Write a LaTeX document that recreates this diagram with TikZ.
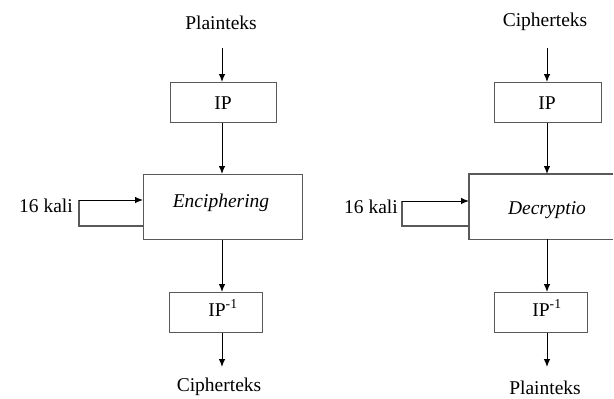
\documentclass[tikz,border=0pt]{standalone}
\usepackage{fontspec}
\setmainfont{Liberation Serif}
\usetikzlibrary{arrows.meta}
\begin{document}
\begin{tikzpicture}[x=1pt,y=-1pt,
  txt/.style={font=\fontsize{19.5}{21}\selectfont, inner sep=0pt},
  boxnode/.style={draw=black!65, line width=1.2pt, inner sep=0pt, anchor=north west},
  boxline/.style={draw=black!65, line width=1.2pt},
  arr/.style={draw=black, line width=1pt, -{Latex[length=8pt,width=6.5pt]}}]
\useasboundingbox (0,0) rectangle (614,399);
% ---------- left column ----------
\node[txt] (pl1) at (221,23) {Plainteks};
\coordinate (pl1a) at (222,48);
\node[boxnode, minimum width=106, minimum height=40] (ip1) at (170,82) {};
\node[txt] (ip1t) at (223,103) {IP};
\node[boxnode, minimum width=159, minimum height=65] (enc) at (143,174) {};
\node[txt] (enct) at (221,203) {\textit{Enciphering}};
\node[boxnode, minimum width=93, minimum height=40] (ipi1) at (169,292) {};
\node[txt] (ipi1t) at (223,308) {IP\textsuperscript{-1}};
\node[txt] (ci1) at (219,387) {Cipherteks};
\coordinate (ci1a) at (222,367);
\node[txt, anchor=east] (k1) at (73,206) {16 kali};
\draw[arr] (pl1a) -- (pl1a |- ip1.north);
\draw[arr] (pl1a |- ip1.south) -- (pl1a |- enc.north);
\draw[arr] (pl1a |- enc.south) -- (pl1a |- ipi1.north);
\draw[arr] (pl1a |- ipi1.south) -- (ci1a);
\draw[boxline] (enc.west |- 0,226) -- (79,226) -- (79,200);
\draw[arr] (79,200) -- (enc.west |- 0,200);
% ---------- right column ----------
\node[txt] (ci2) at (545,22) {Cipherteks};
\coordinate (ci2a) at (547,48);
\node[boxnode, minimum width=107, minimum height=40] (ip2) at (494,82) {};
\node[txt] (ip2t) at (547,103) {IP};
\node[draw=none, inner sep=0pt, anchor=north west, minimum width=144, minimum height=65] (dec) at (469,174) {};
\node[txt] (dect) at (547,210) {\textit{Decryptio}};
\draw[boxline] (dec.north east) -- (dec.north west) -- (dec.south west) -- (dec.south east);
\node[boxnode, minimum width=93, minimum height=40] (ipi2) at (494,292) {};
\node[txt] (ipi2t) at (547,308) {IP\textsuperscript{-1}};
\node[txt] (pl2) at (545,388) {Plainteks};
\coordinate (pl2a) at (547,367);
\node[txt, anchor=east] (k2) at (398,207) {16 kali};
\draw[arr] (ci2a) -- (ci2a |- ip2.north);
\draw[arr] (ci2a |- ip2.south) -- (ci2a |- dec.north);
\draw[arr] (ci2a |- dec.south) -- (ci2a |- ipi2.north);
\draw[arr] (ci2a |- ipi2.south) -- (pl2a);
\draw[boxline] (dec.west |- 0,226) -- (402,226) -- (402,201);
\draw[arr] (402,201) -- (dec.west |- 0,201);
\end{tikzpicture}
\end{document}
